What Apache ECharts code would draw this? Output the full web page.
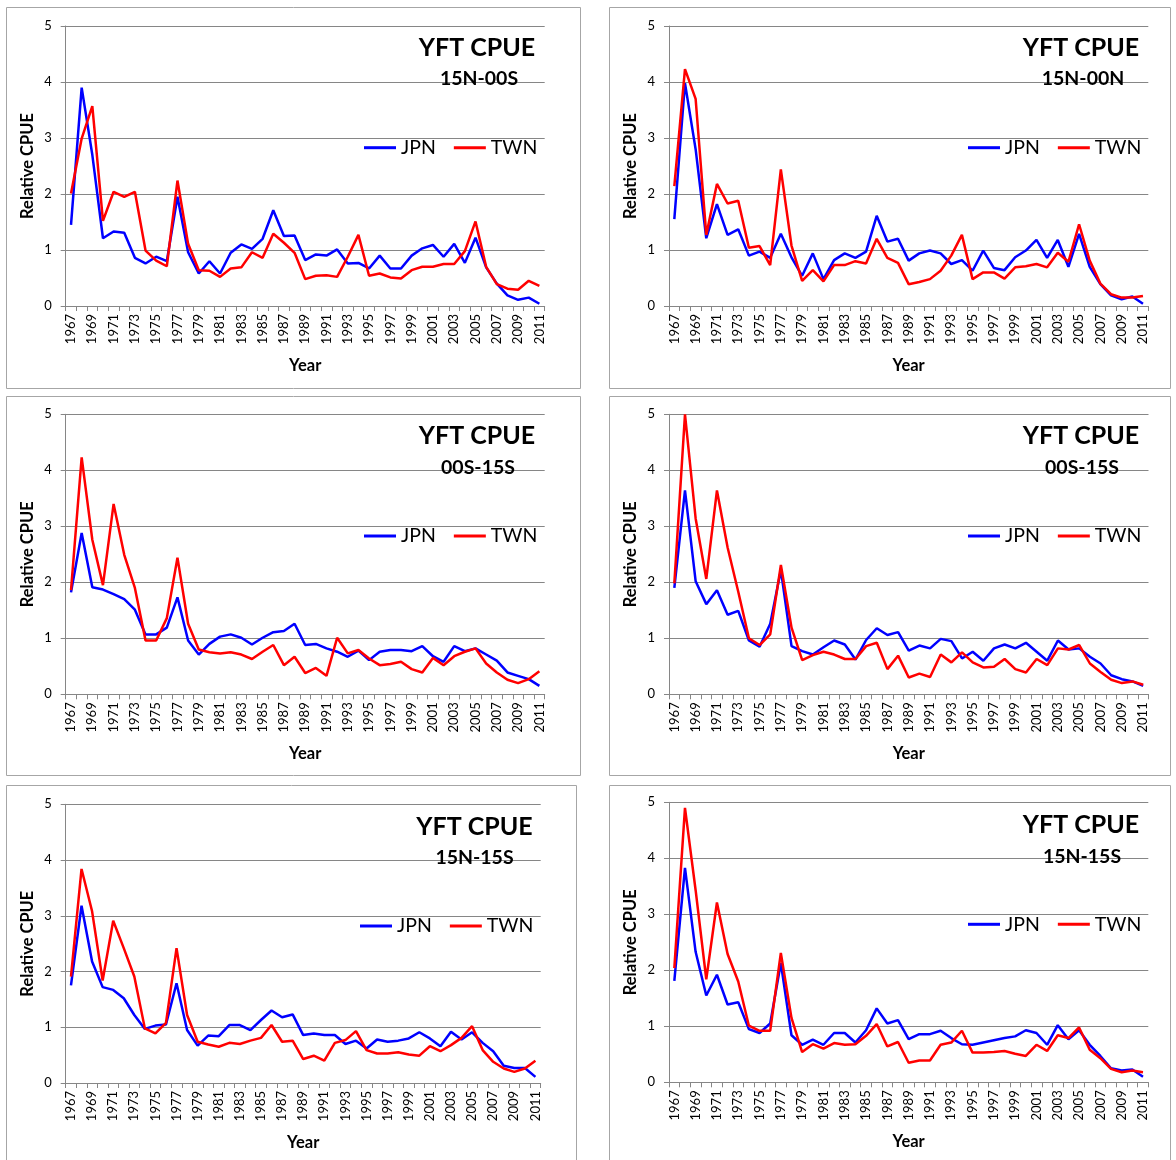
<!DOCTYPE html>
<html><head><meta charset="utf-8">
<script src="https://cdn.jsdelivr.net/npm/echarts@6/dist/echarts.min.js"></script>
<style>html,body{margin:0;padding:0;background:#fff}#chart{width:1176px;height:1160px}</style>
</head><body><div id="chart"></div>
<script>
// ---------- DATA ----------
const years = ['1967','1968','1969','1970','1971','1972','1973','1974','1975','1976','1977','1978','1979','1980','1981','1982','1983','1984','1985','1986','1987','1988','1989','1990','1991','1992','1993','1994','1995','1996','1997','1998','1999','2000','2001','2002','2003','2004','2005','2006','2007','2008','2009','2010','2011'];
const seriesNames = ['JPN', 'TWN'];
const mainTitle = 'YFT CPUE';
const regions = ['15N-00S', '15N-00N', '00S-15S', '00S-15S', '15N-15S', '15N-15S'];
const yAxisName = 'Relative CPUE';
const xAxisName = 'Year';

const jpn1 = [1.45,3.90,2.70,1.21,1.33,1.31,0.86,0.76,0.88,0.80,1.95,0.96,0.58,0.80,0.58,0.95,1.10,1.02,1.20,1.71,1.25,1.26,0.82,
  0.92,0.90,1.01,0.76,0.77,0.67,0.90,0.67,0.67,0.90,1.03,1.09,0.88,1.11,0.77,1.22,0.69,0.40,0.19,0.11,0.15,0.04];
const twn1 = [2.01,2.99,3.57,1.52,2.04,1.95,2.04,0.99,0.81,0.71,2.24,1.11,0.64,0.63,0.52,0.67,0.69,0.96,0.86,1.29,1.13,0.95,0.48,
  0.54,0.55,0.52,0.88,1.27,0.54,0.58,0.51,0.49,0.64,0.70,0.70,0.75,0.75,0.98,1.51,0.70,0.39,0.31,0.29,0.45,0.36];

const jpn2 = [1.55,3.98,2.80,1.21,1.82,1.27,1.37,0.90,0.97,0.86,1.29,0.87,0.54,0.94,0.48,0.82,0.94,0.86,0.97,1.61,1.15,1.20,0.81,
  0.94,0.99,0.94,0.75,0.82,0.63,0.99,0.68,0.64,0.87,0.99,1.18,0.86,1.18,0.70,1.29,0.70,0.39,0.19,0.12,0.17,0.04];
const twn2 = [2.14,4.23,3.70,1.27,2.18,1.83,1.88,1.04,1.07,0.73,2.44,1.08,0.45,0.64,0.44,0.73,0.73,0.80,0.76,1.20,0.86,0.77,0.39,
  0.43,0.48,0.63,0.90,1.27,0.48,0.60,0.60,0.49,0.69,0.71,0.75,0.69,0.95,0.79,1.46,0.81,0.40,0.21,0.15,0.15,0.18];

const jpn3 = [1.82,2.88,1.91,1.87,1.79,1.70,1.51,1.07,1.07,1.19,1.73,0.96,0.71,0.90,1.03,1.07,1.01,0.89,1.01,1.11,1.13,1.26,0.88,
  0.90,0.82,0.76,0.67,0.78,0.61,0.76,0.79,0.79,0.77,0.86,0.68,0.58,0.86,0.77,0.82,0.71,0.60,0.39,0.33,0.27,0.15];
const twn3 = [1.86,4.23,2.76,1.95,3.40,2.49,1.90,0.96,0.96,1.36,2.44,1.26,0.80,0.75,0.73,0.75,0.71,0.63,0.76,0.88,0.52,0.67,0.38,
  0.47,0.33,1.01,0.73,0.79,0.64,0.52,0.54,0.58,0.45,0.39,0.65,0.52,0.68,0.76,0.82,0.55,0.39,0.26,0.20,0.27,0.41];

const jpn4 = [1.90,3.64,2.02,1.61,1.86,1.42,1.49,0.96,0.85,1.26,2.22,0.86,0.77,0.71,0.84,0.96,0.89,0.62,0.97,1.18,1.06,1.11,0.78,
  0.87,0.82,0.99,0.95,0.64,0.76,0.60,0.82,0.89,0.82,0.92,0.76,0.60,0.96,0.80,0.82,0.67,0.55,0.34,0.27,0.23,0.15];
const twn4 = [1.98,5.00,3.14,2.06,3.64,2.62,1.83,1.00,0.88,1.07,2.31,1.19,0.61,0.70,0.76,0.71,0.63,0.63,0.86,0.92,0.45,0.69,0.30,
  0.37,0.31,0.71,0.57,0.75,0.57,0.48,0.49,0.63,0.45,0.39,0.63,0.52,0.82,0.80,0.88,0.55,0.40,0.26,0.20,0.23,0.17];

const jpn5 = [1.75,3.18,2.18,1.72,1.67,1.52,1.22,0.97,1.03,1.05,1.79,0.95,0.67,0.85,0.84,1.04,1.04,0.95,1.13,1.30,1.18,1.23,0.86,
  0.89,0.86,0.86,0.70,0.76,0.62,0.78,0.74,0.76,0.80,0.91,0.80,0.66,0.92,0.78,0.91,0.72,0.57,0.31,0.27,0.27,0.11];
const twn5 = [1.91,3.84,3.08,1.84,2.91,2.42,1.91,0.98,0.89,1.08,2.42,1.22,0.74,0.69,0.65,0.72,0.70,0.76,0.81,1.04,0.74,0.76,0.43,
  0.49,0.40,0.72,0.77,0.93,0.59,0.53,0.53,0.55,0.51,0.49,0.66,0.57,0.68,0.81,1.02,0.59,0.38,0.26,0.20,0.26,0.40];

const jpn6 = [1.81,3.83,2.33,1.55,1.92,1.39,1.43,0.95,0.88,1.05,2.13,0.84,0.67,0.76,0.67,0.88,0.88,0.71,0.93,1.32,1.05,1.11,0.77,
  0.86,0.86,0.92,0.79,0.68,0.67,0.71,0.75,0.79,0.82,0.93,0.88,0.67,1.02,0.77,0.93,0.67,0.47,0.25,0.21,0.23,0.10];
const twn6 = [2.04,4.90,3.43,1.84,3.21,2.29,1.80,1.01,0.92,0.92,2.31,1.15,0.54,0.68,0.60,0.70,0.67,0.68,0.83,1.04,0.64,0.72,0.35,
  0.39,0.39,0.67,0.71,0.92,0.53,0.53,0.54,0.56,0.51,0.47,0.67,0.56,0.84,0.79,0.98,0.58,0.43,0.24,0.18,0.21,0.18];

// ---------- LAYOUT ----------
const jpnData = [jpn1, jpn2, jpn3, jpn4, jpn5, jpn6];
const twnData = [twn1, twn2, twn3, twn4, twn5, twn6];
const layout = [
  {g:[65.7, 26, 479, 280],    box:[6, 7, 574, 381],   tx:477,  ty:47.5, sx:479,  sy:78,    lx:364, ly:146.7},
  {g:[669, 26, 479.3, 280],   box:[609, 7, 561, 381], tx:1081, ty:47.5, sx:1083, sy:78,    lx:968, ly:146.7},
  {g:[65.7, 414.3, 479, 280], box:[6, 396, 574, 379], tx:477,  ty:435,  sx:478,  sy:466.5, lx:364, ly:535},
  {g:[669, 414.3, 479.5, 280],box:[609, 396, 561, 379],tx:1081,ty:435,  sx:1082, sy:466.7, lx:968, ly:535},
  {g:[65.7, 804.3, 475, 278.7],box:[6, 785, 570, 380],tx:474.5,ty:826,  sx:474.5,sy:857,   lx:360, ly:925},
  {g:[669, 802.3, 479.3, 280],box:[609, 785, 561, 380],tx:1081, ty:824,  sx:1082, sy:855.7, lx:968, ly:923.3}
];

const FONT = 'Lato';
const GRAY = '#868686';
const grids = [], xAxes = [], yAxes = [], series = [], titles = [], legends = [], graphics = [];

layout.forEach((L, k) => {
  grids.push({left: L.g[0], top: L.g[1], width: L.g[2], height: L.g[3], containLabel: false});
  xAxes.push({
    type: 'category', gridIndex: k, data: years, boundaryGap: true,
    axisLine: {lineStyle: {color: GRAY, width: 1}},
    axisTick: {show: true, interval: 0, length: 5, lineStyle: {color: GRAY}},
    axisLabel: {interval: 1, rotate: 90, fontFamily: FONT, fontSize: 13, color: '#000', margin: 8},
    splitLine: {show: false},
    name: xAxisName, nameLocation: 'middle', nameGap: 51,
    nameTextStyle: {fontFamily: FONT, fontWeight: 'bold', fontSize: 16.5, color: '#000'}
  });
  yAxes.push({
    type: 'value', gridIndex: k, min: 0, max: 5, interval: 1,
    axisLine: {show: true, lineStyle: {color: GRAY, width: 1}},
    axisTick: {show: true, length: 5, lineStyle: {color: GRAY}},
    axisLabel: {fontFamily: FONT, fontSize: 13, color: '#000', margin: 14},
    splitLine: {show: true, lineStyle: {color: GRAY, width: 1}},
    name: yAxisName, nameLocation: 'middle', nameRotate: 90, nameGap: 30,
    nameTextStyle: {fontFamily: FONT, fontWeight: 'bold', fontSize: 16.5, color: '#000'}
  });
  series.push({
    type: 'line', name: seriesNames[0], xAxisIndex: k, yAxisIndex: k, data: jpnData[k],
    symbol: 'none', lineStyle: {color: '#0000ff', width: 2.5}, itemStyle: {color: '#0000ff'}
  });
  series.push({
    type: 'line', name: seriesNames[1], xAxisIndex: k, yAxisIndex: k, data: twnData[k],
    symbol: 'none', lineStyle: {color: '#ff0000', width: 2.5}, itemStyle: {color: '#ff0000'}
  });
  titles.push({
    text: mainTitle, left: L.tx, top: L.ty - 12, textAlign: 'center', padding: 0,
    textStyle: {fontFamily: FONT, fontWeight: 'bold', fontSize: 25, color: '#000'}
  });
  titles.push({
    text: regions[k], left: L.sx, top: L.sy - 9, textAlign: 'center', padding: 0,
    textStyle: {fontFamily: FONT, fontWeight: 'bold', fontSize: 19.5, color: '#000'}
  });
  legends.push({
    data: seriesNames, left: L.lx, top: L.ly - 9, padding: 0, orient: 'horizontal',
    icon: 'rect', itemWidth: 32, itemHeight: 3, itemGap: 18, selectedMode: false,
    textStyle: {fontFamily: FONT, fontSize: 19.5, color: '#000'}
  });
  graphics.push({
    type: 'rect', silent: true, z: -10,
    shape: {x: L.box[0] + 0.5, y: L.box[1] + 0.5, width: L.box[2], height: L.box[3]},
    style: {fill: 'none', stroke: '#a6a6a6', lineWidth: 1}
  });
});

const chart = echarts.init(document.getElementById('chart'), null, {renderer: 'canvas'});
chart.setOption({
  backgroundColor: '#fff',
  animation: false,
  title: titles,
  legend: legends,
  grid: grids,
  xAxis: xAxes,
  yAxis: yAxes,
  series: series,
  graphic: graphics
});
</script>
</body></html>
